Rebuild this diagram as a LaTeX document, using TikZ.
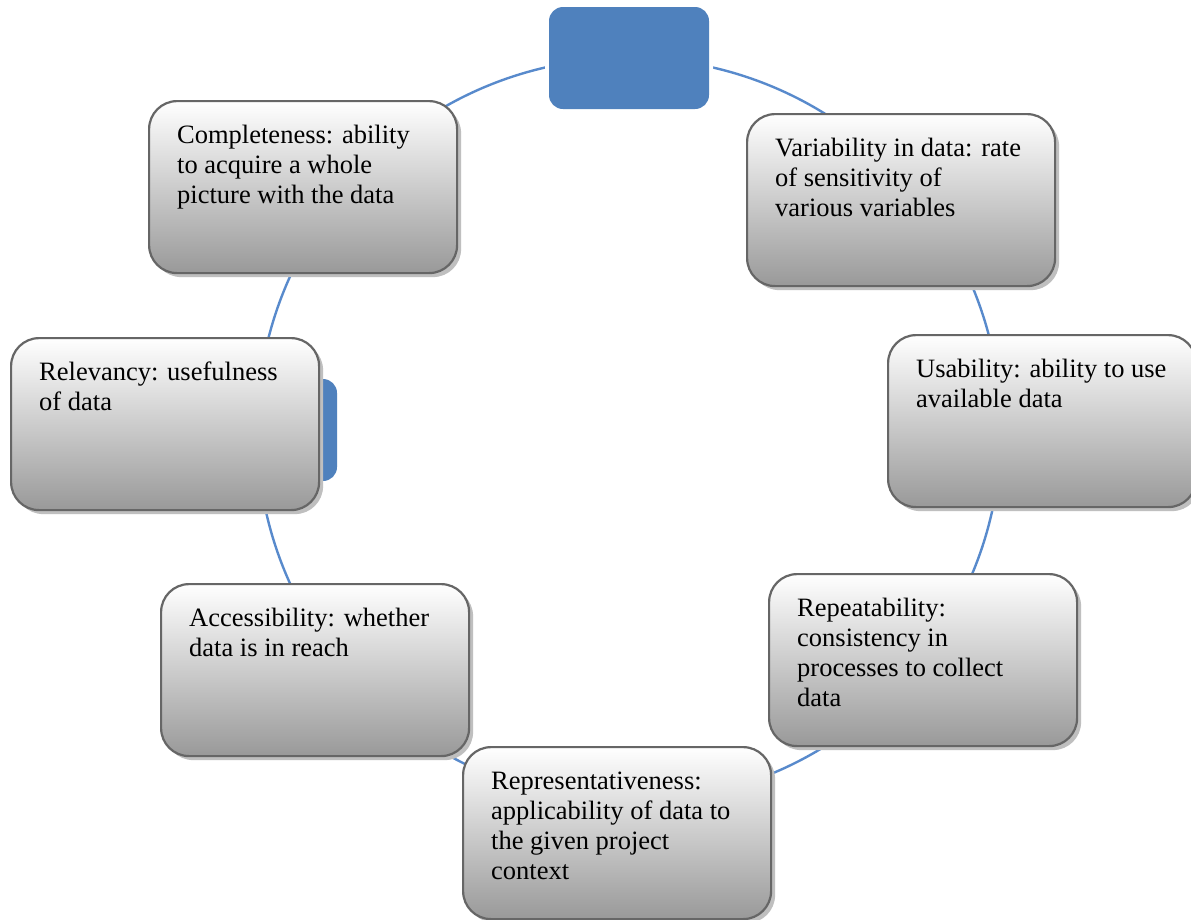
\documentclass[tikz,border=0pt]{standalone}
\usepackage{fontspec}
\setmainfont{Liberation Serif}
\usetikzlibrary{shadows}
\definecolor{cyc}{RGB}{88,138,204}
\definecolor{accent}{RGB}{79,129,189}
\definecolor{edge}{RGB}{102,102,102}
\begin{document}
\begin{tikzpicture}[x=1pt,y=-1pt,
  stagebox/.style={rectangle, rounded corners=28pt, draw=edge, line width=2.2pt,
    top color=white, bottom color=black!40, minimum width=308pt, minimum height=172pt,
    inner sep=0pt, anchor=north west,
    drop shadow={shadow xshift=4pt, shadow yshift=-4pt, fill=black!25, opacity=1}},
  bluebox/.style={rectangle, rounded corners=14pt, fill=accent,
    minimum width=160pt, minimum height=102pt, inner sep=0pt,
    preaction={draw=white, line width=8pt}},
  lbl/.style={anchor=base west, inner sep=0pt, font=\fontsize{26.5}{30}\selectfont},
  cycle/.style={draw=cyc, line width=2.4pt}]
\useasboundingbox (0,0) rectangle (1191,919);
\fill[white] (0,0) rectangle (1191,919);
\coordinate (ctr) at (629,430);
\draw[cycle] (ctr) circle[radius=372];
% accent nodes on the cycle
\node[bluebox] (topnode) at (629,58) {};
\node[bluebox] (leftnode) at (257,430) {};
% stage boxes
\node[stagebox] (comp) at (148,100) {};
\node[stagebox] (var) at (746,113) {};
\node[stagebox] (rel) at (10,337) {};
\node[stagebox] (use) at (887,334) {};
\node[stagebox] (acc) at (160,583) {};
\node[stagebox] (rep) at (768,573) {};
\node[stagebox] (repr) at (462,746) {};
% texts
\node[lbl] (tcomp) at (177,143) {\vtop{\hbox{Completeness: ability}\hbox{to acquire a whole}\hbox{picture with the data}}};
\node[lbl] (tvar) at (775,156) {\vtop{\hbox{Variability in data: rate}\hbox{of sensitivity of}\hbox{various variables}}};
\node[lbl] (trel) at (39,380) {\vtop{\hbox{Relevancy: usefulness}\hbox{of data}}};
\node[lbl] (tuse) at (916,377) {\vtop{\hbox{Usability: ability to use}\hbox{available data}}};
\node[lbl] (tacc) at (189,626) {\vtop{\hbox{Accessibility: whether}\hbox{data is in reach}}};
\node[lbl] (trep) at (797,616) {\vtop{\hbox{Repeatability:}\hbox{consistency in}\hbox{processes to collect}\hbox{data}}};
\node[lbl] (trepr) at (491,789) {\vtop{\hbox{Representativeness:}\hbox{applicability of data to}\hbox{the given project}\hbox{context}}};
\end{tikzpicture}
\end{document}
